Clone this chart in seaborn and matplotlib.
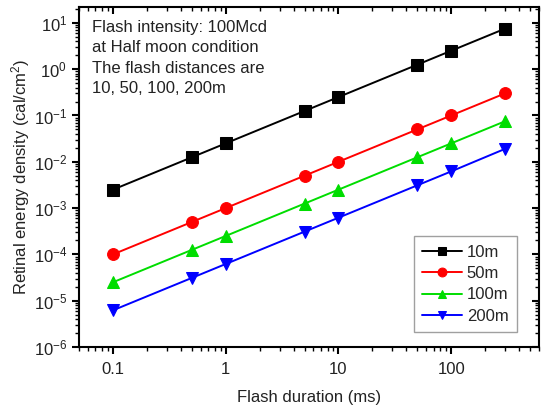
import matplotlib
matplotlib.use("Agg")
import matplotlib.pyplot as plt
import seaborn as sns
import pandas as pd
from matplotlib.ticker import LogLocator, NullFormatter, FixedLocator, FixedFormatter

sns.set_theme(style="white")
plt.rcParams['font.family'] = ['Liberation Sans', 'DejaVu Sans']
plt.rcParams['mathtext.fontset'] = 'custom'
plt.rcParams['mathtext.rm'] = 'Liberation Sans'
plt.rcParams['mathtext.it'] = 'Liberation Sans'
plt.rcParams['axes.unicode_minus'] = False

durations = [0.1, 0.5, 1, 5, 10, 50, 100, 300]
e_10m = [0.0025, 0.0125, 0.025, 0.125, 0.25, 1.25, 2.5, 7.5]
e_50m = [1e-4, 5e-4, 1e-3, 5e-3, 0.01, 0.05, 0.1, 0.3]
e_100m = [2.5e-5, 1.25e-4, 2.5e-4, 1.25e-3, 2.5e-3, 0.0125, 0.025, 0.075]
e_200m = [6.2e-6, 3.1e-5, 6.2e-5, 3.1e-4, 6.2e-4, 3.1e-3, 6.2e-3, 0.019]
labels = ["10m", "50m", "100m", "200m"]
colors = ["#000000", "#ff0000", "#00dd00", "#0000ff"]
markers = ["s", "o", "^", "v"]
xtick_vals = [0.1, 1, 10, 100]
xtick_labels = ["0.1", "1", "10", "100"]
ytick_vals = [1e-6, 1e-5, 1e-4, 1e-3, 1e-2, 1e-1, 1, 10]
ytick_labels = [r"10$^{-6}$", r"10$^{-5}$", r"10$^{-4}$", r"10$^{-3}$",
                r"10$^{-2}$", r"10$^{-1}$", r"10$^{0}$", r"10$^{1}$"]

series = [e_10m, e_50m, e_100m, e_200m]
df = pd.concat([pd.DataFrame({"x": durations, "y": s, "dist": l}) for s, l in zip(series, labels)])

fig = plt.figure(figsize=(5.42, 4.07), dpi=100)
ax = fig.add_axes([79/542, 1-347/407, (539-79)/542, (347-7)/407])

for l, c, m in zip(labels, colors, markers):
    sub = df[df["dist"] == l]
    sns.lineplot(data=sub, x="x", y="y", ax=ax, color=c, marker=m, markersize=8.5,
                 markeredgecolor=c, linewidth=1.4, label=l)

ax.set_xscale("log")
ax.set_yscale("log")
ax.set_xlim(0.05, 600)
ax.set_ylim(1e-6, 22)

ax.xaxis.set_major_locator(FixedLocator(xtick_vals))
ax.xaxis.set_major_formatter(FixedFormatter(xtick_labels))
ax.xaxis.set_minor_locator(LogLocator(base=10, subs=range(2, 10), numticks=20))
ax.xaxis.set_minor_formatter(NullFormatter())
ax.yaxis.set_major_locator(FixedLocator(ytick_vals))
ax.yaxis.set_major_formatter(FixedFormatter(ytick_labels))
ax.yaxis.set_minor_locator(LogLocator(base=10, subs=range(2, 10), numticks=20))
ax.yaxis.set_minor_formatter(NullFormatter())

for s in ax.spines.values():
    s.set_color("black")
    s.set_linewidth(1.5)

ax.tick_params(axis="both", which="both", color="black", labelsize=12, labelcolor="#222222")
ax.tick_params(axis="both", which="major", length=5, width=1.5)
ax.tick_params(axis="both", which="minor", length=3, width=1.0)
ax.tick_params(bottom=True, left=True, direction="out", which="both")
ax.tick_params(axis="x", which="major", pad=6)

axt = ax.secondary_xaxis("top")
axt.xaxis.set_major_locator(FixedLocator(xtick_vals))
axt.xaxis.set_minor_locator(LogLocator(base=10, subs=range(2, 10), numticks=20))
axt.tick_params(which="both", direction="in", labeltop=False, color="black")
axt.tick_params(which="major", length=5, width=1.5)
axt.tick_params(which="minor", length=3, width=1.0)
axt.xaxis.set_major_formatter(NullFormatter())
axt.xaxis.set_minor_formatter(NullFormatter())
axr = ax.secondary_yaxis("right")
axr.yaxis.set_major_locator(FixedLocator(ytick_vals))
axr.yaxis.set_minor_locator(LogLocator(base=10, subs=range(2, 10), numticks=20))
axr.tick_params(which="both", direction="in", labelright=False, color="black")
axr.tick_params(which="major", length=5, width=1.5)
axr.tick_params(which="minor", length=3, width=1.0)
axr.yaxis.set_major_formatter(NullFormatter())
axr.yaxis.set_minor_formatter(NullFormatter())
axt.spines["top"].set_visible(False)
axr.spines["right"].set_visible(False)

ax.set_xlabel("Flash duration (ms)", fontsize=12, color="#222222", labelpad=9)
ax.set_ylabel("Retinal energy density (cal/cm$^2$)", fontsize=12, color="#222222", labelpad=1)

ax.text(0.028, 0.962, "Flash intensity: 100Mcd\nat Half moon condition\nThe flash distances are\n10, 50, 100, 200m",
        transform=ax.transAxes, ha="left", va="top", fontsize=12, color="#222222", linespacing=1.45)

leg = ax.legend(loc="lower right", bbox_to_anchor=(0.952, 0.044), borderaxespad=0, fontsize=12,
                frameon=True, fancybox=False, edgecolor="#888888", handlelength=2.4,
                handletextpad=0.3, labelspacing=0.38, borderpad=0.5, markerscale=0.75)
leg.get_frame().set_linewidth(1.0)

fig.savefig("out.png", dpi=100)
